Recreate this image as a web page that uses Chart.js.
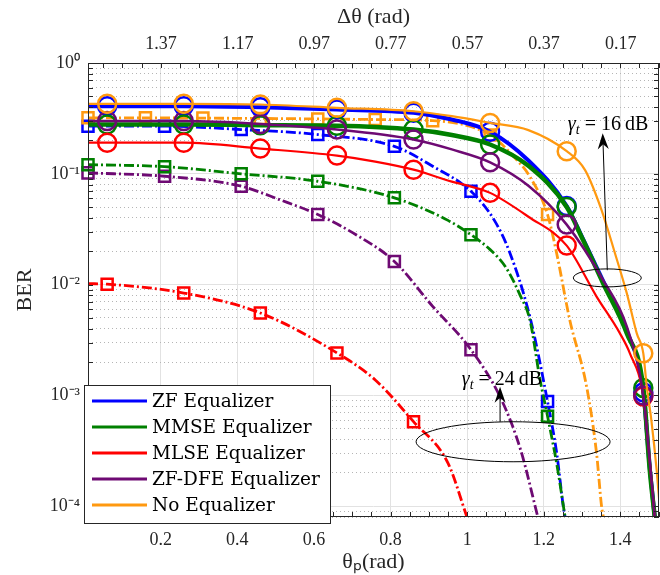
<!DOCTYPE html>
<html>
<head>
<meta charset="utf-8">
<script src="https://cdn.jsdelivr.net/npm/chart.js@4.4.1/dist/chart.umd.min.js"></script>
<style>
  html, body { margin: 0; padding: 0; background: #fff; }
  #wrap { width: 660px; height: 575px; }
</style>
</head>
<body>
<div id="wrap"><canvas id="myChart"></canvas></div>
<script>
// legend entries
const names = ['ZF Equalizer', 'MMSE Equalizer', 'MLSE Equalizer', 'ZF-DFE Equalizer', 'No Equalizer'];
const colors = ['#0000ff', '#008000', '#ff0000', '#6e0a73', '#ff9910'];

// axis ticks
const xTickValues = [0.2, 0.4, 0.6, 0.8, 1.0, 1.2, 1.4];
const topTickLabels = [1.37, 1.17, 0.97, 0.77, 0.57, 0.37, 0.17];   // delta theta = pi/2 - theta_p
const yTickValues = [1, 1e-1, 1e-2, 1e-3, 1e-4];
const yTickLabels = ['10⁰', '10⁻¹', '10⁻²', '10⁻³', '10⁻⁴'];
const yDecades = [1e-5, 1e-4, 1e-3, 1e-2, 1e-1, 1];

// marker positions (theta_p)
const circleAt = [0.06, 0.26, 0.46, 0.66, 0.86, 1.06, 1.26, 1.46];
const squareAt = [0.01, 0.21, 0.41, 0.61, 0.81, 1.01, 1.21];
const squareAtMLSE = [0.06, 0.26, 0.46, 0.66, 0.86];
const squareAtNone = [0.01, 0.16, 0.31, 0.46, 0.61, 0.76, 0.91, 1.06, 1.21];

// gamma_t = 16 dB, solid lines
const zf16X = [0.01, 0.06, 0.26, 0.46, 0.66, 0.86, 0.96, 1.06, 1.16, 1.26, 1.30, 1.355, 1.417, 1.46, 1.477, 1.49];
const zf16Y = [0.407, 0.407, 0.407, 0.398, 0.380, 0.355, 0.309, 0.240, 0.132, 0.0513, 0.027, 0.0108, 0.0038, 0.00107, 2.2e-4, 7.9e-5];
const mmse16X = [0.01, 0.06, 0.26, 0.46, 0.66, 0.86, 0.96, 1.06, 1.16, 1.26, 1.303, 1.355, 1.417, 1.46, 1.477, 1.49];
const mmse16Y = [0.279, 0.279, 0.279, 0.275, 0.272, 0.251, 0.224, 0.184, 0.118, 0.0501, 0.0251, 0.0103, 0.00363, 0.00117, 2.1e-4, 7.9e-5];
const mlse16X = [0.01, 0.06, 0.26, 0.46, 0.66, 0.76, 0.86, 0.96, 1.01, 1.06, 1.16, 1.26, 1.338, 1.399, 1.425, 1.46, 1.475, 1.49];
const mlse16Y = [0.191, 0.191, 0.191, 0.169, 0.146, 0.129, 0.109, 0.0851, 0.0767, 0.0673, 0.041, 0.0225, 0.0078, 0.00363, 0.0024, 9.8e-4, 3.0e-4, 7.9e-5];
const dfe16X = [0.01, 0.06, 0.26, 0.46, 0.66, 0.86, 0.96, 1.06, 1.16, 1.26, 1.355, 1.417, 1.46, 1.475, 1.49];
const dfe16Y = [0.299, 0.299, 0.299, 0.282, 0.251, 0.204, 0.166, 0.127, 0.078, 0.0348, 0.011, 0.00417, 0.001, 3.0e-4, 7.9e-5];
const none16X = [0.01, 0.06, 0.26, 0.46, 0.66, 0.86, 0.96, 1.06, 1.16, 1.26, 1.308, 1.351, 1.386, 1.417, 1.443, 1.46, 1.469, 1.481, 1.495, 1.51];
const none16Y = [0.428, 0.428, 0.428, 0.422, 0.394, 0.367, 0.331, 0.288, 0.248, 0.160, 0.108, 0.0471, 0.0192, 0.00834, 0.00363, 0.0024, 0.0012, 6.0e-4, 2.1e-4, 5e-5];

// gamma_t = 24 dB, dash-dot lines
const zf24X = [0.01, 0.21, 0.41, 0.61, 0.81, 0.91, 1.01, 1.07, 1.11, 1.164, 1.21, 1.234, 1.251, 1.256];
const zf24Y = [0.269, 0.269, 0.251, 0.226, 0.177, 0.117, 0.0695, 0.0386, 0.02, 0.0051, 8.8e-4, 3.0e-4, 1e-4, 7.9e-5];
const mmse24X = [0.01, 0.21, 0.41, 0.61, 0.81, 0.95, 1.01, 1.06, 1.10, 1.14, 1.164, 1.19, 1.21, 1.235, 1.256];
const mmse24Y = [0.121, 0.116, 0.100, 0.0857, 0.0607, 0.038, 0.0282, 0.0207, 0.0145, 0.0078, 0.0048, 0.00141, 6.5e-4, 2.3e-4, 7.9e-5];
const mlse24X = [0.01, 0.06, 0.26, 0.46, 0.66, 0.76, 0.86, 0.95, 1.0];
const mlse24Y = [0.0102, 0.0101, 0.0084, 0.00555, 0.00242, 0.00138, 5.8e-4, 2.45e-4, 7.9e-5];
const dfe24X = [0.01, 0.21, 0.41, 0.51, 0.61, 0.71, 0.81, 0.91, 1.01, 1.09, 1.14, 1.185];
const dfe24Y = [0.102, 0.0951, 0.0773, 0.0585, 0.0429, 0.0282, 0.0162, 0.00637, 0.00259, 9.1e-4, 3.2e-4, 7.9e-5];
const none24X = [0.01, 0.16, 0.31, 0.46, 0.61, 0.76, 0.91, 1.06, 1.12, 1.164, 1.21, 1.234, 1.268, 1.312, 1.338, 1.351, 1.356];
const none24Y = [0.32, 0.32, 0.318, 0.316, 0.313, 0.309, 0.302, 0.224, 0.145, 0.094, 0.0429, 0.019, 0.0048, 0.0012, 3.0e-4, 1e-4, 7.9e-5];

const dashDot = [10, 3, 2, 3];
const serif = 'Liberation Serif';

function series(xs, ys, color, width, dash, style, marks, radius, order) {
  return {
    data: xs.map((x, i) => ({x: x, y: ys[i]})),
    borderColor: color,
    borderWidth: width,
    borderDash: dash,
    pointStyle: style,
    pointRadius: c => (c.raw && marks.some(m => Math.abs(m - c.raw.x) < 1e-6)) ? radius : 0,
    pointBorderColor: color,
    pointBorderWidth: 2.5,
    pointBackgroundColor: 'rgba(0,0,0,0)',
    cubicInterpolationMode: 'monotone',
    fill: false,
    order: order,
    clip: {left: 12, right: 0, top: 12, bottom: 0}
  };
}

const datasets = [
  series(none16X, none16Y, colors[4], 2.2, [], 'circle', circleAt, 9, 0),
  series(dfe16X, dfe16Y, colors[3], 2.5, [], 'circle', circleAt, 9, 1),
  series(mlse16X, mlse16Y, colors[2], 2.2, [], 'circle', circleAt, 9, 2),
  series(mmse16X, mmse16Y, colors[1], 4.5, [], 'circle', circleAt, 9, 3),
  series(zf16X, zf16Y, colors[0], 4, [], 'circle', circleAt, 9, 4),
  series(none24X, none24Y, colors[4], 2.8, dashDot, 'rect', squareAtNone, 7.8, 5),
  series(mmse24X, mmse24Y, colors[1], 2.8, dashDot, 'rect', squareAt, 7.8, 6),
  series(zf24X, zf24Y, colors[0], 2.8, dashDot, 'rect', squareAt, 7.8, 7),
  series(dfe24X, dfe24Y, colors[3], 2.8, dashDot, 'rect', squareAt, 7.8, 8),
  series(mlse24X, mlse24Y, colors[2], 2.8, dashDot, 'rect', squareAtMLSE, 7.8, 9)
];

// inward ticks, frame, ellipses, arrows and gamma labels
function gammaLabel(ctx, cx, cy, val) {
  const parts = [
    {t: 'γ', f: 'italic 20px "' + serif + '"', dy: 0},
    {t: 't', f: 'italic 14px "' + serif + '"', dy: 5},
    {t: ' = ' + val + '\u2009dB', f: '20px "' + serif + '"', dy: 0}
  ];
  let w = 0;
  parts.forEach(p => { ctx.font = p.f; p.w = ctx.measureText(p.t).width; w += p.w; });
  let x = cx - w / 2;
  ctx.fillStyle = '#000';
  ctx.textBaseline = 'middle';
  ctx.textAlign = 'left';
  parts.forEach(p => { ctx.font = p.f; ctx.fillText(p.t, x, cy + p.dy); x += p.w; });
}

function arrow(ctx, x0, y0, x1, y1) {
  const ang = Math.atan2(y1 - y0, x1 - x0);
  const ux = Math.cos(ang), uy = Math.sin(ang);
  const px = -uy, py = ux;
  ctx.beginPath();
  ctx.moveTo(x0, y0);
  ctx.lineTo(x1 - ux * 8, y1 - uy * 8);
  ctx.stroke();
  ctx.beginPath();
  ctx.moveTo(x1, y1);
  ctx.lineTo(x1 - ux * 16 + px * 5.5, y1 - uy * 16 + py * 5.5);
  ctx.lineTo(x1 - ux * 11, y1 - uy * 11);
  ctx.lineTo(x1 - ux * 16 - px * 5.5, y1 - uy * 16 - py * 5.5);
  ctx.closePath();
  ctx.fill();
}

const decor = {
  id: 'decor',
  afterDatasetsDraw(chart) {
    const {ctx, chartArea: a, scales: {x, y}} = chart;
    ctx.save();
    ctx.strokeStyle = '#262626';
    ctx.lineWidth = 1;
    ctx.beginPath();
    for (let i = 1; i * 0.05 < x.max; i++) {
      const px = Math.round(x.getPixelForValue(i * 0.05)) + 0.5;
      ctx.moveTo(px, a.bottom); ctx.lineTo(px, a.bottom - 5);
      ctx.moveTo(px, a.top); ctx.lineTo(px, a.top + 5);
    }
    y.ticks.forEach(t => {
      const py = Math.round(y.getPixelForValue(t.value)) + 0.5;
      ctx.moveTo(a.left, py); ctx.lineTo(a.left + 5, py);
      ctx.moveTo(a.right, py); ctx.lineTo(a.right - 5, py);
    });
    ctx.stroke();
    ctx.strokeRect(a.left + 0.5, a.top + 0.5, a.right - a.left - 1, a.bottom - a.top - 1);

    // gamma_t = 16 dB
    ctx.strokeStyle = '#000';
    ctx.fillStyle = '#000';
    ctx.beginPath();
    ctx.ellipse(x.getPixelForValue(1.366), y.getPixelForValue(0.0115), 34, 9, 0, 0, 2 * Math.PI);
    ctx.stroke();
    arrow(ctx, x.getPixelForValue(1.366), y.getPixelForValue(0.0135), x.getPixelForValue(1.354), y.getPixelForValue(0.232));
    gammaLabel(ctx, x.getPixelForValue(1.368), y.getPixelForValue(0.275), 16);

    // gamma_t = 24 dB
    ctx.beginPath();
    ctx.ellipse(x.getPixelForValue(1.12), y.getPixelForValue(3.82e-4), 97, 20, 0, 0, 2 * Math.PI);
    ctx.stroke();
    arrow(ctx, x.getPixelForValue(1.086), y.getPixelForValue(5.79e-4), x.getPixelForValue(1.086), y.getPixelForValue(1.2e-3));
    gammaLabel(ctx, x.getPixelForValue(1.091), y.getPixelForValue(1.38e-3), 24);
    ctx.restore();
  },
  afterDraw(chart) {
    const {ctx, chartArea: a} = chart;
    const x0 = a.left - 4, y0 = a.bottom - 132, w = 246, h = 138;
    ctx.save();
    ctx.fillStyle = '#fff';
    ctx.fillRect(x0, y0, w, h);
    ctx.strokeStyle = '#262626';
    ctx.lineWidth = 1;
    ctx.strokeRect(x0 + 0.5, y0 + 0.5, w, h);
    ctx.font = '18.5px "DejaVu Serif"';
    ctx.textBaseline = 'middle';
    ctx.textAlign = 'left';
    names.forEach((n, i) => {
      const cy = y0 + 16 + i * 26;
      ctx.strokeStyle = colors[i];
      ctx.lineWidth = 3;
      ctx.beginPath();
      ctx.moveTo(x0 + 8, cy);
      ctx.lineTo(x0 + 63, cy);
      ctx.stroke();
      ctx.fillStyle = '#000';
      ctx.fillText(n, x0 + 68, cy + 1);
    });
    ctx.restore();
  }
};

function noSidePadding(s) {
  s.paddingLeft = 0;
  s.paddingRight = 0;
}

const ctx = document.getElementById('myChart');

const myChart = new Chart(ctx, {
  type: 'line',
  data: {datasets},
  options: {
    responsive: true,
    maintainAspectRatio: false,
    animation: false,
    events: [],
    layout: {autoPadding: false, padding: {left: 0, right: 1, top: 0, bottom: 0}},
    plugins: {legend: {display: false}, tooltip: {enabled: false}},
    scales: {
      x: {
        type: 'linear',
        position: 'bottom',
        min: 0.01,
        max: 1.501,
        afterBuildTicks: s => { s.ticks = xTickValues.map(v => ({value: v})); },
        afterFit: s => { s.height = 58; noSidePadding(s); },
        ticks: {
          autoSkip: false, maxRotation: 0, padding: 12, color: '#262626',
          font: {family: serif, size: 18},
          callback: v => String(Math.round(v * 10) / 10)
        },
        grid: {color: '#e2e2e2', drawTicks: false},
        border: {display: false},
        title: {display: true, text: 'θₚ(rad)', color: '#262626', font: {family: serif, size: 22, lineHeight: 1}, padding: {top: 0, bottom: 2}}
      },
      x2: {
        type: 'linear',
        position: 'top',
        min: 0.01,
        max: 1.501,
        afterBuildTicks: s => { s.ticks = topTickLabels.map(l => ({value: Math.PI / 2 - l})); },
        afterFit: s => { s.height = 63; noSidePadding(s); },
        ticks: {
          autoSkip: false, maxRotation: 0, padding: 8, color: '#262626',
          font: {family: serif, size: 18},
          callback: (v, i) => topTickLabels[i].toFixed(2)
        },
        grid: {display: false, drawTicks: false},
        border: {display: false},
        title: {display: true, text: 'Δθ (rad)', color: '#262626', font: {family: serif, size: 22, lineHeight: 1}, padding: {top: 6, bottom: 0}}
      },
      y: {
        type: 'logarithmic',
        min: 8e-5,
        max: 1,
        afterBuildTicks: s => {
          const t = [];
          yDecades.forEach(d => {
            for (let k = 1; k <= 9; k++) {
              const v = k * d;
              if (v >= s.min * 0.999 && v <= s.max * 1.001) t.push({value: v, major: k === 1});
            }
          });
          s.ticks = t;
        },
        afterFit: s => { s.width = 88; s.paddingTop = 0; s.paddingBottom = 0; },
        ticks: {
          autoSkip: false, padding: 8, color: '#262626',
          font: {family: serif, size: 18},
          callback: v => {
            const i = yTickValues.findIndex(t => Math.abs(t - v) / t < 1e-6);
            return i >= 0 ? yTickLabels[i] : '';
          }
        },
        grid: {
          drawTicks: false,
          color: c => (c.tick && c.tick.major) ? '#e2e2e2' : '#b5b5b5'
        },
        border: {display: false, dash: c => (c.tick && c.tick.major) ? [] : [1, 3]},
        title: {display: true, text: 'BER', color: '#262626', font: {family: serif, size: 22, lineHeight: 1}, padding: {top: 14, bottom: 0}}
      }
    }
  },
  plugins: [decor]
});
</script>
</body>
</html>
